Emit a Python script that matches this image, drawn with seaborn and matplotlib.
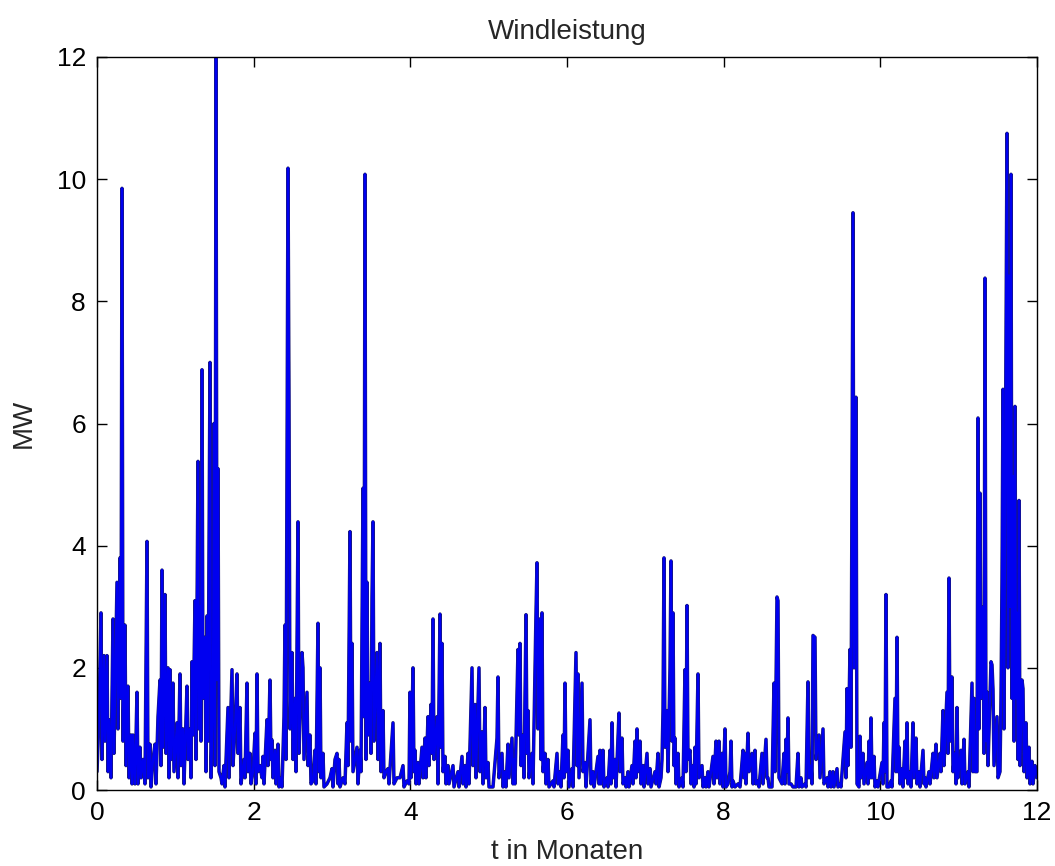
import numpy as np
import pandas as pd
import matplotlib
matplotlib.use("Agg")
import matplotlib.pyplot as plt
import seaborn as sns

# Windleistung ueber ein Jahr
# Probe-Nummer (Rasterschritt) und Leistung in MW, je zwei Monate
SAMPLES_PER_MONTH = 940 / 12

n_m0 = [0, 2, 4, 5, 7, 8, 10, 11, 12, 14, 16, 17, 20, 21, 23, 24, 25, 26, 28, 29,
        31, 32, 34, 35, 36, 38, 40, 41, 43, 44, 46, 48, 50, 51, 53, 54, 56, 58, 59, 61,
        63, 64, 65, 66, 68, 69, 71, 72, 73, 74, 76, 77, 80, 81, 83, 84, 86, 87, 90, 91,
        93, 94, 95, 96, 98, 99, 101, 102, 103, 104, 105, 106, 108, 109, 110, 111, 113, 114, 116, 117,
        118, 119, 120, 121, 122, 124, 125, 127, 128, 131, 132, 135, 136, 138, 140, 141, 143, 144, 147, 148,
        150, 151, 153, 154, 156]
mw_m0 = [0.3, 1.2, 2.9, 0.5, 2.2, 0.8, 2.2, 0.3, 1.15, 0.2, 2.8, 0.6, 3.4, 1.0, 3.8, 1.5, 9.85, 0.8, 2.7, 0.4,
         1.7, 0.2, 0.9, 0.1, 0.9, 0.1, 1.6, 0.1, 0.7, 0.2, 0.5, 0.1, 4.07, 0.2, 0.75, 0.05, 0.5, 0.75, 0.1, 1.2,
         1.8, 0.4, 3.6, 0.7, 3.2, 0.6, 2.0, 0.2, 1.97, 0.5, 1.75, 0.3, 1.1, 0.2, 1.9, 0.4, 1.0, 0.1, 1.7, 0.5,
         1.0, 0.2, 2.1, 0.9, 3.1, 0.5, 5.38, 1.0, 3.0, 0.8, 6.88, 1.5, 2.5, 0.3, 2.85, 0.8, 7.0, 0.2, 1.5, 6.0,
         0.4, 12.0, 1.8, 5.26, 0.3, 0.2, 0.1, 0.4, 0.05, 1.35, 0.2, 1.97, 0.4, 1.0, 1.9, 0.6, 1.35, 0.1, 0.5, 0.2,
         1.75, 0.3, 0.6, 0.1, 0.3]

n_m2 = [158, 159, 160, 161, 163, 165, 166, 167, 170, 171, 173, 174, 175, 176, 178, 179, 181, 182, 184, 185,
        187, 188, 189, 191, 192, 193, 195, 196, 198, 199, 201, 202, 205, 206, 207, 210, 211, 213, 214, 216,
        218, 219, 221, 222, 223, 224, 226, 227, 230, 233, 235, 236, 238, 240, 241, 242, 243, 246, 248, 250,
        251, 253, 254, 255, 256, 260, 261, 263, 264, 266, 267, 268, 269, 270, 271, 273, 274, 275, 276, 277,
        280, 281, 283, 284, 286, 287, 289, 291, 292, 296, 297, 300, 303, 306, 307, 310, 312]
mw_m2 = [0.93, 0.1, 1.9, 0.3, 0.4, 0.2, 0.55, 0.1, 1.15, 0.4, 1.8, 0.5, 0.82, 0.2, 0.65, 0.1, 0.75, 0.05, 0.2, 0.05,
         1.2, 2.7, 0.5, 10.18, 6.42, 1.0, 2.25, 0.5, 1.5, 0.3, 4.39, 0.6, 2.25, 2.0, 0.5, 1.6, 0.4, 0.9, 0.1, 0.15,
         0.65, 0.1, 2.73, 0.3, 2.0, 0.2, 0.6, 0.05, 0.1, 0.2, 0.35, 0.05, 0.5, 0.6, 0.1, 0.5, 0.05, 0.2, 0.1, 1.1,
         0.4, 4.23, 0.8, 2.4, 0.3, 0.7, 0.1, 0.65, 0.3, 4.94, 1.2, 10.08, 0.5, 3.4, 0.9, 1.75, 0.6, 3.15, 4.39, 0.8,
         2.25, 0.5, 2.4, 0.3, 1.3, 0.2, 0.3, 0.35, 0.1, 1.1, 0.1, 0.2, 0.2, 0.4, 0.05, 0.15, 0.1]

n_m4 = [313, 314, 316, 317, 318, 319, 321, 322, 325, 326, 328, 329, 331, 332, 334, 335, 336, 337, 340, 341,
        343, 344, 345, 346, 348, 349, 351, 352, 356, 357, 361, 362, 365, 366, 368, 369, 371, 372, 375, 376,
        378, 379, 382, 383, 385, 386, 388, 389, 391, 392, 396, 400, 401, 402, 405, 406, 408, 409, 411, 412,
        415, 416, 417, 418, 421, 422, 423, 424, 426, 427, 429, 430, 431, 432, 435, 436, 439, 440, 441, 443,
        444, 445, 446, 448, 449, 451, 452, 456, 457, 460, 461, 463, 464, 466, 467, 468, 469]
mw_m4 = [1.6, 0.2, 2.0, 0.3, 0.65, 0.1, 0.45, 0.1, 0.7, 0.2, 0.85, 0.2, 1.2, 0.4, 1.4, 0.6, 2.8, 0.5, 1.2, 0.1,
         2.88, 0.7, 2.4, 0.3, 0.55, 0.1, 0.4, 0.1, 0.4, 0.05, 0.3, 0.05, 0.55, 0.1, 0.4, 0.05, 0.6, 0.1, 2.0, 0.4,
         1.4, 0.2, 2.0, 0.3, 0.95, 0.1, 1.35, 0.2, 0.45, 0.05, 0.05, 0.85, 1.85, 0.2, 0.6, 0.05, 0.3, 0.05, 0.75, 0.2,
         0.85, 0.1, 0.5, 0.1, 2.3, 0.9, 2.4, 0.4, 0.9, 0.2, 2.87, 0.6, 1.3, 0.2, 0.6, 0.1, 2.9, 3.72, 1.0, 2.8,
         0.5, 2.9, 0.3, 0.6, 0.1, 0.5, 0.05, 0.15, 0.05, 0.6, 0.1, 0.3, 0.05, 0.9, 0.2, 1.75, 0.3]

n_m6 = [471, 472, 475, 476, 479, 480, 481, 482, 485, 486, 488, 489, 493, 494, 496, 497, 501, 502, 503, 504,
        506, 507, 510, 511, 513, 514, 515, 516, 518, 519, 522, 523, 525, 526, 528, 529, 531, 532, 535, 536,
        538, 539, 540, 541, 543, 544, 546, 547, 550, 551, 553, 554, 558, 559, 561, 562, 564, 565, 566, 567,
        568, 570, 571, 573, 574, 575, 576, 577, 578, 579, 581, 582, 585, 586, 588, 589, 590, 591, 593, 594,
        596, 597, 598, 599, 601, 602, 605, 606, 608, 609, 611, 612, 616, 617, 619, 620, 622, 623, 625, 626]
mw_m6 = [0.65, 0.05, 0.35, 0.05, 2.25, 0.4, 1.9, 0.2, 1.75, 0.3, 0.45, 0.05, 1.15, 0.1, 0.3, 0.05, 0.55, 0.1, 0.65, 0.1,
         0.65, 0.05, 0.2, 0.05, 0.65, 0.1, 1.1, 0.2, 0.5, 0.05, 1.26, 0.3, 0.85, 0.1, 0.2, 0.05, 0.3, 0.05, 0.4, 0.1,
         0.8, 0.2, 1.0, 0.3, 0.8, 0.1, 0.4, 0.05, 0.6, 0.1, 0.35, 0.05, 0.3, 0.1, 0.6, 0.05, 0.2, 0.5, 1.3, 3.8,
         0.7, 1.3, 0.3, 2.0, 3.75, 0.8, 2.9, 0.4, 0.85, 0.1, 0.6, 0.05, 0.2, 0.05, 1.97, 0.3, 3.02, 0.5, 0.65, 0.1,
         0.4, 0.05, 0.7, 0.1, 1.9, 0.2, 0.4, 0.05, 0.2, 0.05, 0.3, 0.05, 0.55, 0.1, 0.8, 0.2, 0.8, 0.1, 0.6, 0.05]

n_m8 = [628, 629, 631, 633, 634, 635, 636, 638, 641, 643, 646, 647, 648, 649, 651, 652, 655, 656, 658, 659,
        661, 662, 665, 666, 669, 670, 671, 672, 675, 677, 678, 680, 681, 682, 685, 687, 688, 689, 690, 691,
        692, 694, 696, 699, 701, 702, 704, 705, 708, 709, 711, 712, 714, 715, 716, 718, 719, 722, 723, 726,
        727, 730, 731, 733, 734, 736, 737, 740, 741, 743, 744, 748, 749, 750, 751, 753, 754, 756, 757, 759,
        760, 762, 763, 764, 766, 767, 770, 771, 772, 773, 774, 775, 777, 778, 780, 781]
mw_m8 = [1.0, 0.05, 0.1, 0.3, 0.8, 0.05, 0.15, 0.05, 0.1, 0.05, 0.65, 0.2, 0.6, 0.1, 0.93, 0.3, 0.6, 0.1, 0.65, 0.1,
         0.15, 0.05, 0.6, 0.1, 0.83, 0.2, 0.2, 0.05, 0.05, 1.75, 0.3, 3.16, 3.1, 0.2, 0.1, 0.6, 0.1, 0.83, 0.3, 1.18,
         0.1, 0.1, 0.05, 0.05, 0.6, 0.05, 0.2, 0.05, 0.1, 0.05, 1.77, 0.2, 0.4, 0.1, 2.53, 2.5, 0.5, 0.9, 0.2, 1.0,
         0.1, 0.2, 0.05, 0.3, 0.05, 0.3, 0.05, 0.35, 0.05, 0.1, 0.05, 0.95, 0.2, 1.66, 0.4, 2.3, 0.7, 9.45, 2.0, 6.43,
         0.1, 0.05, 0.88, 0.2, 0.6, 0.1, 0.45, 0.1, 0.8, 0.2, 1.18, 0.2, 0.55, 0.05, 0.15, 0.05]

n_m10 = [785, 786, 787, 788, 789, 790, 792, 794, 795, 798, 799, 800, 801, 802, 803, 805, 806, 808, 809, 810,
         811, 813, 814, 816, 817, 819, 820, 822, 823, 826, 827, 828, 829, 832, 833, 836, 837, 839, 840, 843,
         844, 846, 847, 850, 851, 852, 853, 855, 856, 858, 859, 860, 861, 864, 865, 867, 868, 871, 872, 875,
         876, 877, 878, 880, 881, 882, 883, 884, 886, 887, 888, 889, 890, 891, 894, 895, 896, 897, 900, 901,
         903, 904, 905, 906, 907, 908, 910, 911, 912, 913, 914, 915, 916, 917, 918, 919, 920, 921, 922, 923,
         925, 926, 927, 929, 930, 932, 933, 935, 936, 938, 940]
mw_m10 = [0.45, 0.1, 1.1, 0.3, 3.2, 0.05, 0.05, 0.15, 0.05, 1.5, 0.3, 2.5, 0.3, 0.7, 0.1, 0.35, 0.05, 0.8, 0.2, 1.1,
          0.1, 0.3, 0.05, 1.1, 0.2, 0.85, 0.1, 0.3, 0.05, 0.65, 0.1, 0.2, 0.05, 0.3, 0.1, 0.6, 0.2, 0.75, 0.2, 0.6,
          0.3, 1.3, 0.4, 1.6, 0.6, 3.47, 0.8, 1.85, 0.3, 0.6, 0.1, 1.35, 0.2, 0.65, 0.1, 0.83, 0.1, 0.3, 0.05, 1.75,
          0.3, 1.5, 0.3, 0.3, 6.09, 1.0, 4.86, 1.5, 3.0, 0.6, 8.38, 0.8, 1.6, 0.4, 2.1, 2.05, 1.65, 0.4, 1.2, 0.2,
          0.3, 1.5, 3.4, 6.56, 1.0, 4.0, 10.75, 2.0, 8.42, 3.0, 10.08, 1.5, 5.14, 0.8, 6.28, 1.5, 2.9, 0.5, 4.74, 0.4,
          1.8, 1.66, 0.3, 1.1, 0.2, 0.7, 0.1, 0.47, 0.1, 0.4, 0.2]

x_ticks = [0, 2, 4, 6, 8, 10, 12]
y_ticks = [0, 2, 4, 6, 8, 10, 12]

samples = n_m0 + n_m2 + n_m4 + n_m6 + n_m8 + n_m10
values = mw_m0 + mw_m2 + mw_m4 + mw_m6 + mw_m8 + mw_m10
df = pd.DataFrame({"t": np.array(samples) / SAMPLES_PER_MONTH, "MW": values})

sns.set_style("ticks")
plt.rcParams["font.family"] = ["Liberation Sans Narrow", "Liberation Sans", "DejaVu Sans"]

fig = plt.figure(figsize=(10.55, 8.66), dpi=100)
ax = fig.add_axes([97 / 1055, 76 / 866, 940 / 1055, 733 / 866])

# dunkler Rand unter der blauen Linie, wie im JPEG-Original
sns.lineplot(data=df, x="t", y="MW", ax=ax, sort=False, estimator=None,
             color="#1c1c6e", linewidth=2.5)
sns.lineplot(data=df, x="t", y="MW", ax=ax, sort=False, estimator=None,
             color="#0000f0", linewidth=1.7)

ax.set_xlim(0, 12)
ax.set_ylim(0, 12)
ax.set_xticks(x_ticks)
ax.set_yticks(y_ticks)
ax.tick_params(direction="in", length=7, width=1, top=True, right=True,
               labelsize=19, colors="black", pad=8)
for s in ax.spines.values():
    s.set_visible(True)
    s.set_color("black")
    s.set_linewidth(1)

ax.set_title("Windleistung", fontsize=20, pad=13)
ax.set_xlabel("t in Monaten", fontsize=20, labelpad=10)
ax.set_ylabel("MW", fontsize=20, labelpad=14)

fig.savefig("out.png", dpi=100, facecolor="white")
